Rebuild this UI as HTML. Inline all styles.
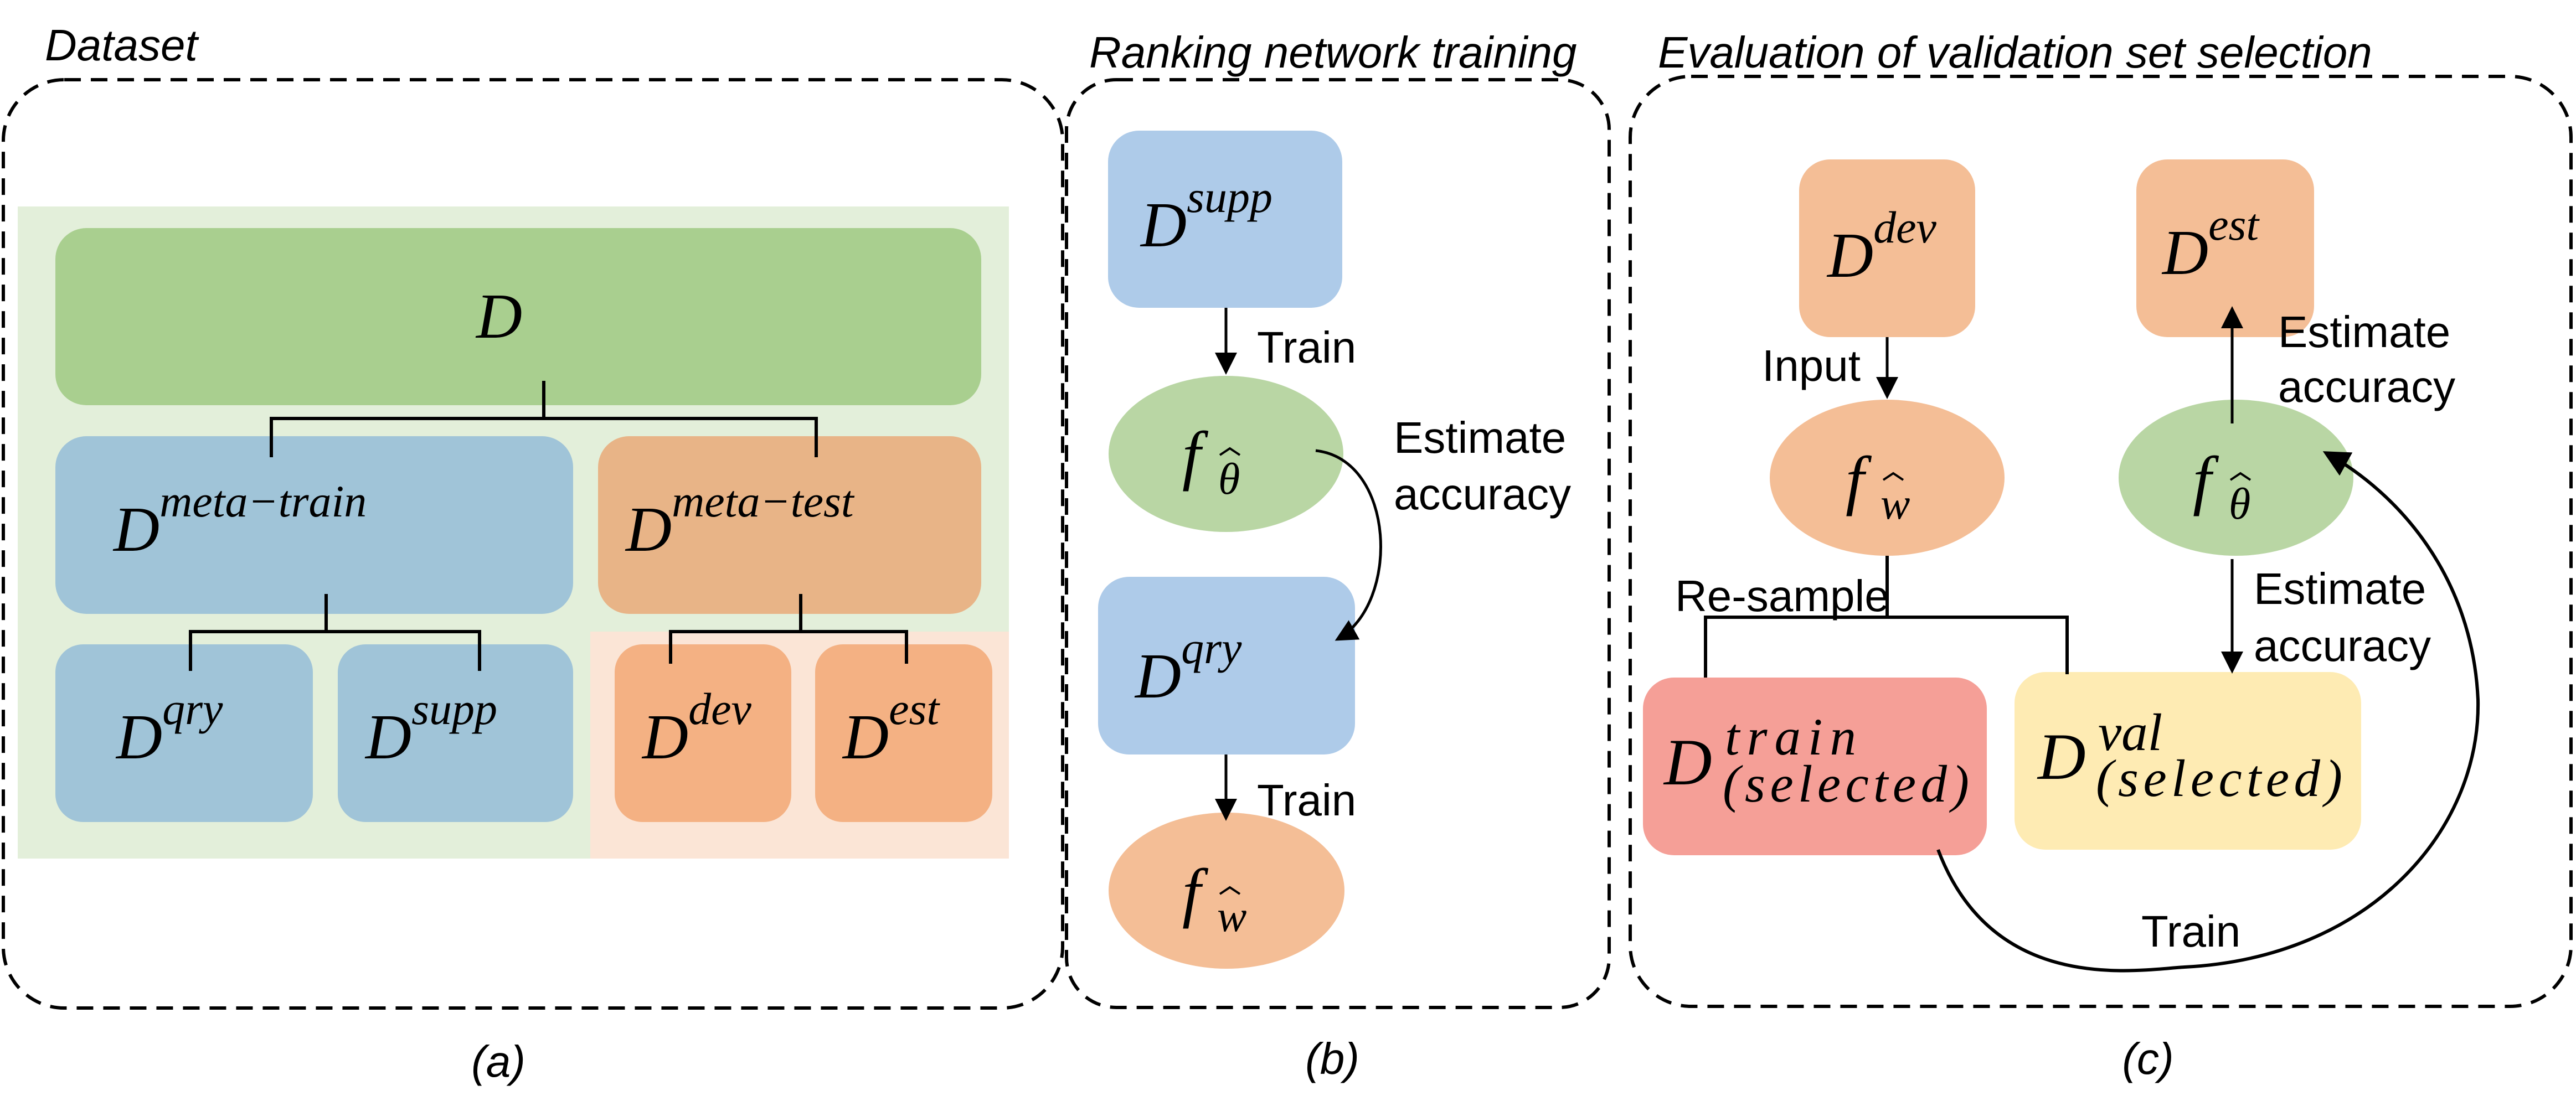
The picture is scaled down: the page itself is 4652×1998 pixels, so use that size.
<!DOCTYPE html>
<html><head><meta charset="utf-8"><style>
html,body{margin:0;padding:0;background:#fff}
svg{display:block}
.l{font-family:"Liberation Sans",sans-serif;font-size:80px;fill:#000}
.t{font-family:"Liberation Sans",sans-serif;font-size:80px;font-style:italic;fill:#000}
.m{font-family:"Liberation Serif","DejaVu Serif",serif;font-style:italic;fill:#000}
</style></head><body>
<svg width="4652" height="1998" viewBox="0 0 4652 1998" xmlns="http://www.w3.org/2000/svg">
<defs>
<marker id="ah" markerWidth="8" markerHeight="8" refX="7" refY="4" orient="auto" markerUnits="strokeWidth">
<path d="M0,0 L8,4 L0,8 z" fill="#000"/></marker>
</defs>
<g fill="none" stroke="#000" stroke-width="6" stroke-dasharray="30,18">
<rect x="6" y="144" width="1913" height="1677" rx="110"/>
<rect x="1926" y="144" width="980" height="1676" rx="90"/>
<rect x="2944" y="138" width="1699" height="1680" rx="110"/>
</g>
<text class="t" x="81" y="109">Dataset</text>
<text class="t" x="1967" y="122">Ranking network training</text>
<text class="t" x="2994" y="122">Evaluation of validation set selection</text>
<text class="t" x="900" y="1945" text-anchor="middle">(a)</text>
<text class="t" x="2406" y="1940" text-anchor="middle">(b)</text>
<text class="t" x="3879" y="1940" text-anchor="middle">(c)</text>

<!-- panel a -->
<rect x="32" y="373" width="1790" height="1178" fill="#e3efda"/>
<rect x="1066" y="1141" width="756" height="410" fill="#fbe5d6"/>
<rect x="100" y="412" width="1672" height="320" rx="56" fill="#a9cf8f"/>
<rect x="100" y="788" width="935" height="321" rx="56" fill="#a0c4d8"/>
<rect x="1080" y="788" width="692" height="321" rx="56" fill="#e8b487"/>
<rect x="100" y="1164" width="465" height="321" rx="50" fill="#a0c4d8"/>
<rect x="610" y="1164" width="425" height="321" rx="50" fill="#a0c4d8"/>
<rect x="1110" y="1164" width="319" height="321" rx="50" fill="#f4b183"/>
<rect x="1472" y="1164" width="320" height="321" rx="50" fill="#f4b183"/>
<g fill="none" stroke="#000" stroke-width="6">
<path d="M982,688 V756 M490,826 V756 H1474 V826"/>
<path d="M589,1073 V1141 M344,1212 V1141 H866 V1212"/>
<path d="M1446,1073 V1141 M1211,1199 V1141 H1637 V1199"/>
</g>
<g class="m">
<text x="860" y="610" font-size="115">D</text>
<text x="205" y="995" font-size="115">D<tspan font-size="82" dy="-62">meta−train</tspan></text>
<text x="1130" y="995" font-size="115">D<tspan font-size="82" dy="-62">meta−test</tspan></text>
<text x="210" y="1370" font-size="115">D<tspan font-size="82" dy="-62">qry</tspan></text>
<text x="660" y="1370" font-size="115">D<tspan font-size="82" dy="-62">supp</tspan></text>
<text x="1160" y="1370" font-size="115">D<tspan font-size="82" dy="-62">dev</tspan></text>
<text x="1522" y="1370" font-size="115">D<tspan font-size="82" dy="-62">est</tspan></text>
</g>

<!-- panel b -->
<rect x="2001" y="236" width="423" height="320" rx="56" fill="#aecbe9"/>
<ellipse cx="2214" cy="820" rx="212" ry="141" fill="#b9d6a4"/>
<rect x="1983" y="1042" width="464" height="321" rx="56" fill="#aecbe9"/>
<ellipse cx="2215" cy="1609" rx="213" ry="141" fill="#f4be96"/>
<g fill="none" stroke="#000" stroke-width="5">
<path d="M2214,556 V672" marker-end="url(#ah)"/>
<path d="M2214,1363 V1478" marker-end="url(#ah)"/>
<path d="M2376,814 C2520,830 2530,1090 2415,1155" marker-end="url(#ah)"/>
</g>
<text class="l" x="2270" y="655">Train</text>
<text class="l" x="2270" y="1473">Train</text>
<text class="l" x="2517" y="818">Estimate</text>
<text class="l" x="2517" y="920">accuracy</text>
<g class="m">
<text x="2060" y="445" font-size="115">D<tspan font-size="82" dy="-62">supp</tspan></text>
<text x="2135" y="862" font-size="120">f</text>
<text x="2200" y="892" font-size="80">θ</text>
<text x="2050" y="1260" font-size="115">D<tspan font-size="82" dy="-62">qry</tspan></text>
<text x="2135" y="1652" font-size="120">f</text>
<text x="2198" y="1682" font-size="80">w</text>
</g>
<g fill="none" stroke="#000" stroke-width="4">
<path d="M2203,822 L2221,810 L2239,822"/>
<path d="M2203,1615 L2221,1603 L2239,1615"/>
</g>

<!-- panel c -->
<rect x="3249" y="288" width="318" height="321" rx="56" fill="#f4be96"/>
<rect x="3858" y="288" width="321" height="321" rx="56" fill="#f4be96"/>
<ellipse cx="3408" cy="863" rx="212" ry="141" fill="#f4be96"/>
<ellipse cx="4038" cy="863" rx="212" ry="141" fill="#b9d6a4"/>
<rect x="2967" y="1224" width="621" height="321" rx="56" fill="#f59f97"/>
<rect x="3638" y="1214" width="626" height="321" rx="56" fill="#feebb3"/>
<g fill="none" stroke="#000" stroke-width="5">
<path d="M3408,609 V716" marker-end="url(#ah)"/>
<path d="M4031,765 V558" marker-end="url(#ah)"/>
<path d="M4031,1010 V1212" marker-end="url(#ah)"/>
<path d="M3408,1004 V1115 M3080,1224 V1115 H3733 V1218" stroke-width="6"/>
<path d="M3500,1535 C3600,1800 3860,1752 3945,1747 C4280,1730 4480,1500 4475,1264 C4465,1040 4330,890 4200,818" stroke-width="6" marker-end="url(#ah)"/>
</g>
<text class="l" x="3182" y="688">Input</text>
<text class="l" x="4114" y="627">Estimate</text>
<text class="l" x="4114" y="726">accuracy</text>
<text class="l" x="4070" y="1091">Estimate</text>
<text class="l" x="4070" y="1194">accuracy</text>
<text class="l" x="3025" y="1104" font-size="72">Re-sample</text>
<text class="l" x="3867" y="1710">Train</text>
<g class="m">
<text x="3300" y="500" font-size="115">D<tspan font-size="82" dy="-62">dev</tspan></text>
<text x="3905" y="495" font-size="115">D<tspan font-size="82" dy="-62">est</tspan></text>
<text x="3333" y="907" font-size="120">f</text>
<text x="3396" y="937" font-size="80">w</text>
<text x="3960" y="907" font-size="120">f</text>
<text x="4025" y="937" font-size="80">θ</text>
<text x="3005" y="1417" font-size="120">D</text>
<text x="3115" y="1363" font-size="95" textLength="237">train</text>
<text x="3111" y="1448" font-size="95" textLength="445">(selected)</text>
<text x="3680" y="1407" font-size="120">D</text>
<text x="3789" y="1355" font-size="95">val</text>
<text x="3785" y="1438" font-size="95" textLength="445">(selected)</text>
</g>
<g fill="none" stroke="#000" stroke-width="4">
<path d="M3401,867 L3419,855 L3437,867"/>
<path d="M4028,867 L4046,855 L4064,867"/>
</g>
</svg>
</body></html>
